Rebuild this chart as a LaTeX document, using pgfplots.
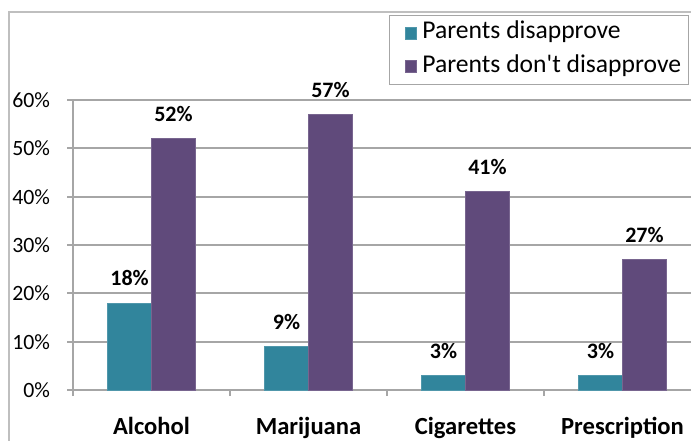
\documentclass[border=0pt]{standalone}
\usepackage{pgfplots}
\pgfplotsset{compat=1.18}
\usepackage{fontspec}
\setmainfont{Carlito}
\definecolor{tealbar}{HTML}{31859C}
\definecolor{purpbar}{HTML}{604A7B}
\definecolor{gridg}{HTML}{A6A6A6}
\definecolor{frameg}{HTML}{BFBFBF}
\begin{document}
\begin{tikzpicture}
\clip (0pt,0pt) rectangle (345.5pt,220pt);
\draw[line width=1pt, frameg] (4.5pt,-5pt) -- (4.5pt,214pt) -- (360pt,214pt);
\begin{axis}[
  at={(36.5pt,25pt)}, anchor=south west,
  scale only axis, width=314pt, height=145pt,
  xmin=-0.5, xmax=3.5, ymin=0, ymax=60,
  axis x line*=bottom, axis y line*=left,
  axis line style={gridg, line width=1pt},
  ymajorgrids, grid style={gridg, line width=1pt},
  tick align=outside, major tick length=3pt, minor tick length=3pt,
  ytick={0,10,...,60},
  yticklabel={\pgfmathprintnumber{\tick}\%},
  /pgf/number format/assume math mode=true,
  yticklabel style={font=\fontsize{10.9}{12}\selectfont, xshift=-5pt},
  xtick={0,1,2,3},
  xticklabels={Alcohol,Marijuana,Cigarettes,Prescription},
  xticklabel style={font=\fontsize{12.3}{14}\selectfont\bfseries, yshift=-7pt},
  minor xtick={-0.5,0.5,1.5,2.5,3.5},
  major x tick style={draw=none},
  minor x tick style={gridg, line width=1pt},
  major y tick style={gridg, line width=1pt},
  ybar, bar width=0.28,
  legend image code/.code={\path (-5.5pt,0pt); \fill[#1] (0pt,-3pt) rectangle (5.5pt,3pt);},
  legend cell align=left,
  legend style={at={(0.503,1.293)}, anchor=north west, draw=gridg, line width=0.5pt,
    font=\fontsize{12.8}{14}\selectfont, inner xsep=2.5pt, inner ysep=3pt,
    row sep=5.25pt, column sep=1.5pt,
    nodes={inner xsep=1pt, inner ysep=0pt, text height=8.5pt, text depth=3pt}},
  nodes near coords={\pgfmathprintnumber{\pgfplotspointmeta}\%},
  every node near coord/.append style={font=\fontsize{11}{13}\selectfont\bfseries, yshift=5pt, black},
]
\addplot[fill=tealbar, draw=tealbar!85!white, bar shift=-0.14] coordinates {(0,18) (1,9) (2,3) (3,3)};
\addplot[fill=purpbar, draw=purpbar!85!white, bar shift=0.14] coordinates {(0,52) (1,57) (2,41) (3,27)};
\legend{Parents disapprove, Parents don\textquotesingle t disapprove}
\end{axis}
\end{tikzpicture}
\end{document}
